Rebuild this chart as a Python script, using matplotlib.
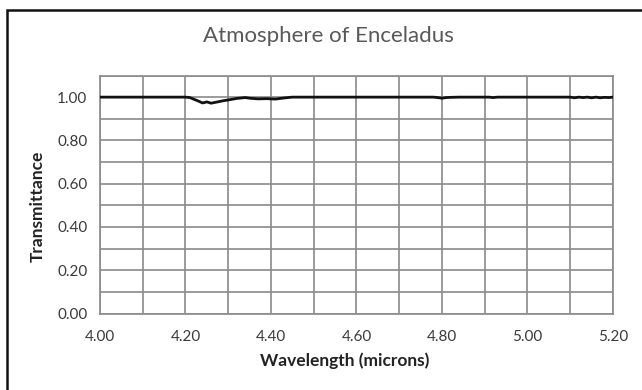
import numpy as np
import matplotlib
matplotlib.use("Agg")
from matplotlib import pyplot as plt
from matplotlib.patches import Rectangle

# spectrum (flat at 1.0 apart from a few dips)
wavelength = [4.00, 4.20, 4.21, 4.22, 4.23, 4.24, 4.25, 4.26, 4.27, 4.28, 4.29,
              4.30, 4.32, 4.34, 4.35, 4.37, 4.39, 4.41, 4.43, 4.45, 4.78, 4.79,
              4.80, 4.81, 4.82, 4.84, 4.91, 4.92, 4.93, 5.10, 5.11, 5.12, 5.13,
              5.14, 5.15, 5.16, 5.17, 5.18, 5.19, 5.20]
transmittance = [1.000, 1.000, 0.998, 0.990, 0.982, 0.973, 0.978, 0.972, 0.976, 0.980, 0.984,
                 0.987, 0.994, 0.998, 0.995, 0.992, 0.993, 0.991, 0.996, 1.000, 1.000, 0.998,
                 0.995, 0.998, 0.999, 1.000, 1.000, 0.998, 1.000, 1.000, 0.997, 1.000, 0.998,
                 1.000, 0.997, 1.000, 0.997, 0.999, 0.998, 1.000]

x_ticks = [4.00, 4.20, 4.40, 4.60, 4.80, 5.00, 5.20]
y_ticks = [0.00, 0.20, 0.40, 0.60, 0.80, 1.00]

plt.rcParams['font.family'] = ['Lato', 'DejaVu Sans']

fig = plt.figure(figsize=(6.42, 3.90), dpi=100)
ax = fig.add_axes([100/642, 1 - 313.5/390, 513/642, 238/390])

# grid every 0.1 in both directions
grid_col = '#8a8a8a'
for gx in np.arange(4.0, 5.21, 0.1):
    ax.axvline(gx, color=grid_col, lw=1.2, zorder=1)
for gy in np.arange(0.0, 1.11, 0.1):
    ax.axhline(gy, color=grid_col, lw=1.2, zorder=1)

ax.plot(wavelength, transmittance, color='#111111', lw=2.0, zorder=3)

ax.set_xlim(4.0, 5.2)
ax.set_ylim(0.0, 1.1)
ax.set_xticks(x_ticks)
ax.set_xticklabels([f"{v:.2f}" for v in x_ticks])
ax.set_yticks(y_ticks)
ax.set_yticklabels([f"{v:.2f}" for v in y_ticks])
ax.tick_params(length=0, labelsize=11, colors='#3a3a3a', pad=9)
ax.tick_params(axis='x', pad=12)
for s in ax.spines.values():
    s.set_color(grid_col)
    s.set_linewidth(1.2)

# axis titles and chart title placed where they sit in the original
fig.text(345/642, 1 - 361/390, "Wavelength (microns)", ha='center', va='center',
         fontsize=12.5, fontweight='bold', color='#222222')
fig.text(38/642, 1 - 206/390, "Transmittance", ha='center', va='center', rotation=90,
         fontsize=12.5, fontweight='bold', color='#222222')
fig.text(328/642, 1 - 36/390, "Atmosphere of Enceladus", ha='center', va='center',
         fontsize=16, color='#595959')

# outer chart border
fig.patches.append(Rectangle((7/642, -0.01), 1.0, 1 - 10/390 + 0.01, transform=fig.transFigure,
                             fill=False, edgecolor='#111111', lw=1.8))

fig.savefig("out.png", dpi=100)
